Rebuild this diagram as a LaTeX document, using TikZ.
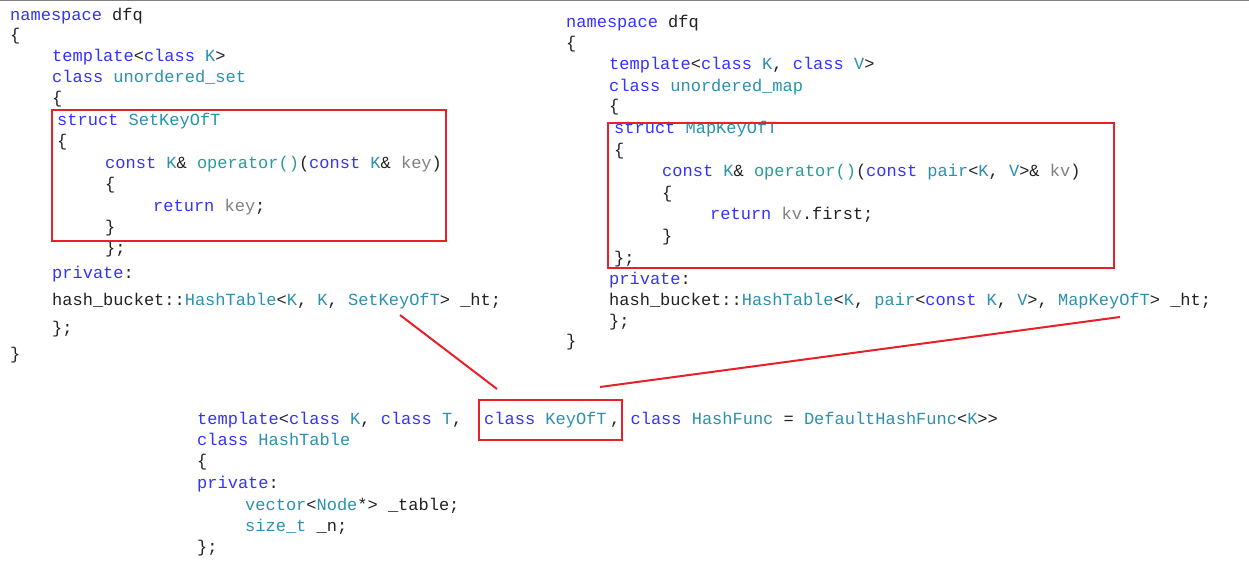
\documentclass[tikz,border=0pt]{standalone}
\usepackage{fontspec}
\setmonofont{Liberation Mono}
\definecolor{kwc}{HTML}{3333FF}
\definecolor{tyc}{HTML}{2B91AF}
\definecolor{fnc}{HTML}{2A9A9A}
\definecolor{pac}{HTML}{808080}
\definecolor{txc}{HTML}{222222}
\definecolor{redc}{HTML}{E8202A}
\newcommand{\kw}[1]{\textcolor{kwc}{#1}}
\newcommand{\ty}[1]{\textcolor{tyc}{#1}}
\newcommand{\fn}[1]{\textcolor{fnc}{#1}}
\newcommand{\pa}[1]{\textcolor{pac}{#1}}
\tikzset{code/.style={anchor=base west,inner sep=0pt,text=txc,font=\ttfamily\fontsize{17}{20}\selectfont},
redbox/.style={draw=redc,line width=2.5pt},
redline/.style={draw=redc,line width=2pt}}
\begin{document}
\begin{tikzpicture}[x=1pt,y=-1pt]
\useasboundingbox[fill=white] (0,0) rectangle (1249,569);
\draw[gray,line width=0.8pt] (0,0.5) -- (1249,0.5);
% left
\node[code] (a1) at (10,21) {\kw{namespace} dfq};
\node[code] (a2) at (10,41) {\{};
\node[code] (a3) at (52,62) {\kw{template}<\kw{class} \ty{K}>};
\node[code] (a4) at (52,83) {\kw{class} \ty{unordered\_set}};
\node[code] (a5) at (52,104) {\{};
\node[code] (a6) at (57,126) {\kw{struct} \ty{SetKeyOfT}};
\node[code] (a7) at (57,147) {\{};
\node[code] (a8) at (105,169) {\kw{const} \ty{K}\& \fn{operator()}(\kw{const} \ty{K}\& \pa{key})};
\node[code] (a9) at (105,190) {\{};
\node[code] (a10) at (153,212) {\kw{return} \pa{key};};
\node[code] (a11) at (105,233) {\}};
\node[code] (a12) at (105,254) {\};};
\node[code] (a13) at (52,278) {\kw{private}:};
\node[code] (a14) at (52,305) {hash\_bucket::\ty{HashTable}<\ty{K}, \ty{K}, \ty{SetKeyOfT}> \_ht;};
\node[code] (a15) at (52,333) {\};};
\node[code] (a16) at (10,359) {\}};
% right
\node[code] (b1) at (566,28) {\kw{namespace} dfq};
\node[code] (b2) at (566,49) {\{};
\node[code] (b3) at (609,70) {\kw{template}<\kw{class} \ty{K}, \kw{class} \ty{V}>};
\node[code] (b4) at (609,92) {\kw{class} \ty{unordered\_map}};
\node[code] (b5) at (609,112) {\{};
\node[code] (b6) at (614,134) {\kw{struct} \ty{MapKeyOfT}};
\node[code] (b7) at (614,156) {\{};
\node[code] (b8) at (662,177) {\kw{const} \ty{K}\& \fn{operator()}(\kw{const} \ty{pair}<\ty{K}, \ty{V}>\& \pa{kv})};
\node[code] (b9) at (662,199) {\{};
\node[code] (b10) at (710,220) {\kw{return} \pa{kv}.first;};
\node[code] (b11) at (662,241) {\}};
\node[code] (b12) at (614,263) {\};};
\node[code] (b13) at (609,284) {\kw{private}:};
\node[code] (b14) at (609,305) {hash\_bucket::\ty{HashTable}<\ty{K}, \ty{pair}<\kw{const} \ty{K}, \ty{V}>, \ty{MapKeyOfT}> \_ht;};
\node[code] (b15) at (609,326) {\};};
\node[code] (b16) at (566,346) {\}};
% bottom
\node[code] (c1a) at (197,424) {\kw{template}<\kw{class} \ty{K}, \kw{class} \ty{T}, };
\node[code] (c1b) at (484,424) {\kw{class} \ty{KeyOfT}};
\node[code] (c1c) at (610,424) {, \kw{class} \ty{HashFunc} = \ty{DefaultHashFunc}<\ty{K}>>};
\node[code] (c2) at (197,445) {\kw{class} \ty{HashTable}};
\node[code] (c3) at (197,466) {\{};
\node[code] (c4) at (197,488) {\kw{private}:};
\node[code] (c5) at (245,510) {\ty{vector}<\ty{Node}*> \_table;};
\node[code] (c6) at (245,531) {\ty{size\_t} \_n;};
\node[code] (c7) at (197,552) {\};};
% boxes and connectors
\draw[redbox] (52,110) rectangle (446,241);
\draw[redbox] (608,123) rectangle (1114,268);
\draw[redbox] (479,400) rectangle (622,440);
\coordinate (p1) at (400,315);
\coordinate (p2) at (497,389);
\coordinate (q1) at (1120,317);
\coordinate (q2) at (600,387);
\draw[redline] (p1) -- (p2);
\draw[redline] (q1) -- (q2);
\end{tikzpicture}
\end{document}
